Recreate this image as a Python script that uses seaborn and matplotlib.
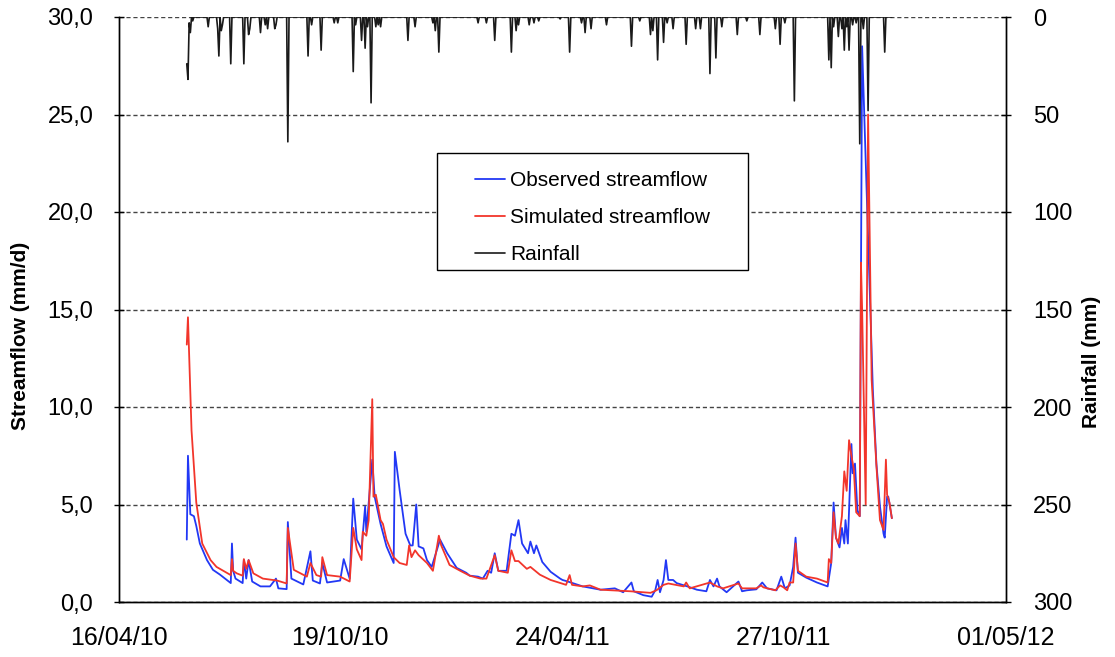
import numpy as np
import pandas as pd
import matplotlib
matplotlib.use("Agg")
import matplotlib.pyplot as plt
import matplotlib.dates as mdates
from matplotlib.patches import Rectangle
from matplotlib import font_manager
import seaborn as sns

# ──────────────────────────────────────────────
# Data (days counted from 16/04/2010)
# ──────────────────────────────────────────────
START = pd.Timestamp("2010-04-16")

obs_day = [57, 58, 60, 63, 65, 68, 74, 79, 85, 94, 95, 96, 98, 104, 105, 107, 109, 112,
           119, 127, 132, 134, 141, 142, 145, 155, 161, 163, 169, 171, 175, 186, 189, 194,
           197, 200, 204, 207, 208, 213, 215, 220, 225, 231, 232, 236, 241, 245, 247, 250,
           252, 256, 259, 263, 267, 270, 276, 284, 292, 295, 302, 306, 310, 313, 316, 319,
           326, 330, 333, 336, 339, 344, 346, 349, 351, 356, 363, 371, 373, 378, 390, 405,
           417, 424, 431, 433, 441, 448, 451, 453, 455, 458, 460, 462, 466, 469, 478, 486,
           494, 497, 500, 503, 505, 511, 521, 524, 528, 536, 541, 545, 553, 557, 560, 564,
           567, 569, 571, 578, 587, 596, 599, 601, 603, 606, 608, 610, 611, 613, 616, 617,
           619, 621, 623, 625, 634, 637, 640, 643, 644, 646, 647, 650]
obs_flow = [3.2, 7.5, 4.5, 4.4, 3.9, 3.0, 2.15, 1.65, 1.4, 0.97, 3.0, 1.6, 1.2, 0.97, 2.15, 1.2, 2.15, 1.05,
            0.8, 0.8, 1.2, 0.7, 0.66, 4.1, 1.2, 0.9, 2.6, 1.1, 0.95, 2.0, 1.0, 1.1, 2.2, 1.2,
            5.3, 3.2, 2.7, 4.9, 3.6, 7.3, 5.4, 4.0, 2.85, 2.0, 7.7, 5.75, 3.5, 2.9, 2.9, 5.0,
            2.85, 2.75, 2.15, 1.8, 2.6, 3.2, 2.5, 1.75, 1.5, 1.35, 1.3, 1.2, 1.6, 1.5, 2.5, 1.6,
            1.6, 3.5, 3.4, 4.2, 3.0, 2.5, 3.1, 2.5, 2.9, 2.05, 1.55, 1.2, 1.13, 1.04, 0.8, 0.63,
            0.7, 0.5, 1.0, 0.55, 0.35, 0.27, 0.6, 1.13, 0.5, 1.13, 2.15, 1.13, 1.13, 0.97, 0.8, 0.63,
            0.55, 1.13, 0.8, 1.2, 0.8, 0.5, 1.05, 0.55, 0.6, 0.65, 1.0, 0.7, 0.6, 1.3, 0.7, 0.85,
            1.8, 3.3, 1.5, 1.25, 1.0, 0.8, 2.0, 5.1, 3.3, 2.8, 3.8, 3.0, 4.2, 3.0, 8.1, 6.6,
            7.1, 4.7, 4.4, 28.5, 10.9, 7.1, 4.9, 3.5, 3.3, 5.4, 5.4, 4.3]

sim_day = [57, 58, 61, 65, 70, 77, 82, 94, 95, 96, 99, 104, 105, 107, 109, 113, 121, 133,
           141, 142, 147, 158, 161, 166, 170, 171, 175, 186, 194, 197, 200, 204, 205, 208,
           210, 213, 214, 216, 220, 222, 225, 231, 236, 242, 244, 246, 249, 252, 259, 264,
           269, 271, 278, 287, 295, 304, 309, 316, 319, 327, 330, 333, 336, 343, 346, 354,
           363, 376, 379, 381, 390, 396, 405, 430, 447, 452, 458, 462, 475, 477, 480, 497,
           503, 508, 521, 524, 536, 540, 542, 552, 556, 559, 562, 564, 567, 569, 571, 578,
           587, 596, 597, 599, 601, 603, 605, 608, 610, 612, 614, 616, 618, 620, 623, 624,
           625, 628, 630, 633, 637, 640, 643, 645, 646, 648, 650]
sim_flow = [13.2, 14.6, 8.8, 5.1, 3.0, 2.15, 1.8, 1.38, 2.2, 1.6, 1.47, 1.35, 2.2, 1.7, 2.15, 1.47, 1.2, 1.1,
            0.95, 3.8, 1.65, 1.3, 2.0, 1.38, 1.3, 2.3, 1.38, 1.3, 1.05, 3.8, 2.7, 2.15, 3.6, 3.4,
            4.2, 10.4, 5.4, 5.5, 4.2, 4.0, 3.2, 2.3, 2.0, 1.9, 2.9, 2.3, 2.65, 2.4, 2.0, 1.6,
            3.4, 2.9, 1.9, 1.6, 1.35, 1.2, 1.2, 2.4, 1.6, 1.5, 2.65, 2.1, 2.1, 1.7, 1.8, 1.4,
            1.13, 0.88, 1.38, 0.88, 0.8, 0.85, 0.63, 0.55, 0.47, 0.6, 0.88, 0.95, 0.8, 1.0, 0.7, 1.0,
            0.8, 0.7, 0.95, 0.7, 0.7, 0.85, 0.75, 0.6, 0.85, 0.75, 0.6, 1.0, 1.0, 3.0, 1.6, 1.3,
            1.2, 1.0, 2.2, 2.0, 4.6, 3.3, 3.0, 4.4, 6.7, 5.7, 8.3, 7.5, 6.8, 4.6, 4.4, 17.4,
            15.0, 5.0, 25.0, 11.4, 7.0, 4.2, 3.7, 7.3, 5.5, 5.1, 4.3]

# rain days (all other days between first and last record had no rain)
rain_day = [57, 58, 59, 60, 62, 75, 83, 84, 86, 87, 94, 105, 109, 110, 119, 123, 125, 131,
            132, 142, 159, 162, 170, 181, 184, 197, 199, 204, 207, 209, 212, 216, 218, 220,
            243, 249, 264, 266, 269, 302, 309, 316, 330, 334, 336, 345, 349, 353, 371, 379,
            389, 392, 397, 410, 431, 438, 447, 449, 453, 458, 461, 466, 477, 485, 489, 497,
            502, 507, 520, 528, 539, 552, 556, 560, 568, 597, 599, 601, 605, 608, 610, 612,
            614, 617, 620, 623, 626, 630, 644]
rain_mm = [24, 32, 3, 8, 2, 5, 6, 20, 7, 4, 24, 24, 9, 6, 8, 4, 6, 6,
           4, 64, 20, 4, 17, 3, 3, 28, 4, 12, 16, 5, 44, 5, 4, 5,
           12, 5, 3, 7, 18, 3, 3, 12, 18, 7, 4, 4, 3, 2, 1, 18,
           3, 8, 6, 4, 15, 2, 9, 7, 22, 13, 3, 6, 14, 6, 6, 29,
           21, 5, 9, 2, 9, 6, 14, 3, 43, 22, 26, 5, 10, 6, 17, 5,
           17, 4, 3, 65, 6, 48, 18]

x_tick_dates = ["2010-04-16", "2010-10-19", "2011-04-24", "2011-10-27", "2012-05-01"]
y_ticks = [0, 5, 10, 15, 20, 25, 30]
rain_ticks = [0, 50, 100, 150, 200, 250, 300]

# ──────────────────────────────────────────────
# Build frames
# ──────────────────────────────────────────────
obs = pd.DataFrame({"date": START + pd.to_timedelta(obs_day, unit="D"), "flow": obs_flow})
sim = pd.DataFrame({"date": START + pd.to_timedelta(sim_day, unit="D"), "flow": sim_flow})
rain = (pd.Series(rain_mm, index=rain_day)
        .reindex(range(rain_day[0], 651), fill_value=0))
rain = pd.DataFrame({"date": START + pd.to_timedelta(rain.index, unit="D"), "mm": rain.values})

# ──────────────────────────────────────────────
# Style
# ──────────────────────────────────────────────
sns.set_style("white")
plt.rcParams["font.family"] = ["Liberation Sans", "DejaVu Sans"]
plt.rcParams.update({"text.color": "black", "axes.labelcolor": "black",
                     "xtick.color": "black", "ytick.color": "black"})
names = {f.name for f in font_manager.fontManager.ttflist}
date_font = "Liberation Sans Narrow" if "Liberation Sans Narrow" in names else "Liberation Sans"

BLUE = "#2238f5"
RED = "#f2352b"
BLACK = "#1a1a1a"

W, H = 1115, 657
fig = plt.figure(figsize=(W / 100, H / 100), dpi=100)
ax = fig.add_axes([119 / W, 1 - 602 / H, 887 / W, 585 / H])
ax2 = ax.twinx()

sns.lineplot(data=obs, x="date", y="flow", ax=ax, color=BLUE, lw=1.3,
             label="Observed streamflow", legend=False)
sns.lineplot(data=sim, x="date", y="flow", ax=ax, color=RED, lw=1.3,
             label="Simulated streamflow", legend=False)
sns.lineplot(data=rain, x="date", y="mm", ax=ax2, color=BLACK, lw=1.2,
             label="Rainfall", legend=False)

# axes limits / ticks
majors = pd.to_datetime(x_tick_dates)
ax.set_xlim(majors[0], majors[-1])
ax.set_ylim(0, 30)
ax2.set_ylim(300, 0)

ax.set_xticks(majors)
ax.xaxis.set_major_formatter(mdates.DateFormatter("%d/%m/%y"))
minors = []
for a, b in zip(majors[:-1], majors[1:]):
    minors += list(pd.date_range(a, b, periods=7)[1:-1])
ax.set_xticks(minors, minor=True)

ax.set_yticks(y_ticks)
ax.set_yticklabels([f"{v:.1f}".replace(".", ",") for v in y_ticks], fontsize=17)
ax2.set_yticks(rain_ticks)
ax2.set_yticklabels([str(v) for v in rain_ticks], fontsize=17)

for lbl in ax.get_xticklabels():
    lbl.set_fontsize(18)
    lbl.set_family([date_font, "Liberation Sans", "DejaVu Sans"])

ax.tick_params(axis="x", which="major", direction="out", length=7, width=1, pad=10)
ax.tick_params(axis="x", which="minor", direction="in", length=5, width=1)
ax.tick_params(axis="y", direction="inout", length=7, width=1, pad=15)
ax2.tick_params(axis="y", direction="inout", length=7, width=1, pad=16)

ax.set_xlabel("")
ax.set_ylabel("Streamflow (mm/d)", fontsize=15, fontweight="bold")
ax2.set_ylabel("Rainfall (mm)", fontsize=15, fontweight="bold")
ax.yaxis.set_label_coords((30 - 119) / 887, 0.455)
ax2.yaxis.set_label_coords((1082 - 119) / 887, 0.41)

# grid + spines
ax.yaxis.grid(True, linestyle=(0, (3, 2)), color="#444444", lw=1)
ax.xaxis.grid(False)
for axis in (ax, ax2):
    axis.spines["top"].set_visible(False)
    for s in ("left", "right", "bottom"):
        axis.spines[s].set_color("black")
        axis.spines[s].set_linewidth(1)
ax.set_axisbelow(True)

# legend: entries placed inside a hand-sized box like the original
handles = ax.get_lines()[:2] + ax2.get_lines()[:1]
labels = ["Observed streamflow", "Simulated streamflow", "Rainfall"]
fig.patches.append(Rectangle((437 / W, 1 - 270 / H), 311 / W, 117 / H,
                             transform=fig.transFigure, facecolor="white",
                             edgecolor="black", lw=1, zorder=5))
leg = fig.legend(handles, labels, loc="upper left",
                 bbox_to_anchor=(475 / W, 1 - 171 / H),
                 fontsize=15, frameon=False, borderpad=0, borderaxespad=0,
                 labelspacing=0.86, handlelength=1.45, handletextpad=0.25)
leg.set_zorder(6)

fig.savefig("out.png", dpi=100)
